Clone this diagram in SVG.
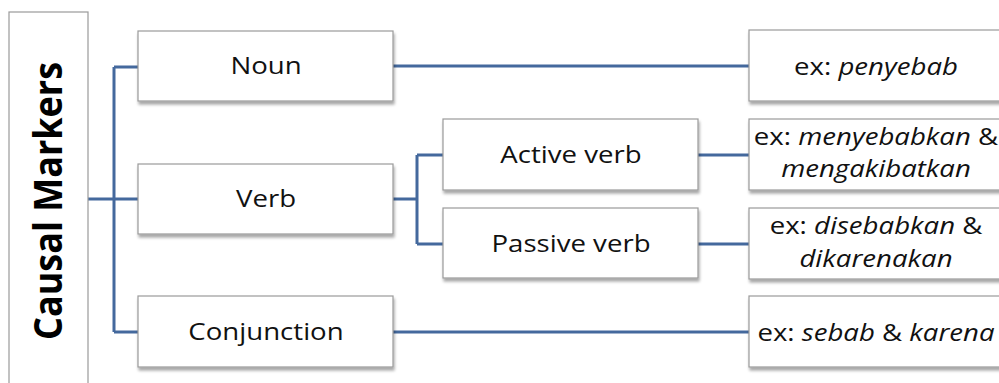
<svg xmlns="http://www.w3.org/2000/svg" width="999" height="383" viewBox="0 0 999 383">
  <style>
    .box { fill: #ffffff; stroke: #9a9a9a; stroke-width: 1.2; filter: url(#shadow); }
    .lbl { font-family: "Open Sans", "Liberation Sans", sans-serif; font-size: 24px; fill: #111111; text-anchor: middle; }
    .it { font-style: italic; }
    .link { fill: none; stroke: #44699d; stroke-width: 3; stroke-linejoin: miter; }
  </style>
  <defs>
    <filter id="shadow" x="-10%" y="-20%" width="120%" height="150%">
      <feGaussianBlur in="SourceAlpha" stdDeviation="1.8"/>
      <feOffset dx="1" dy="3" result="b"/>
      <feComponentTransfer><feFuncA type="linear" slope="0.35"/></feComponentTransfer>
      <feMerge><feMergeNode/><feMergeNode in="SourceGraphic"/></feMerge>
    </filter>
  </defs>

  <rect width="999" height="383" fill="#ffffff"/>

  <!-- connectors -->
  <g id="connectors">
    <path class="link" d="M88 199 H114 M114 67 V332 M114 67 H138 M114 199 H138 M114 332 H138"/>
    <path class="link" d="M393 199 H417 M417 155 V244 M417 155 H443 M417 244 H443"/>
    <path class="link" d="M393 66 H749"/>
    <path class="link" d="M698 155 H749"/>
    <path class="link" d="M698 244 H749"/>
    <path class="link" d="M393 332 H749"/>
  </g>

  <!-- root -->
  <g id="causal-markers">
    <rect x="9" y="12" width="79" height="380" fill="#ffffff" stroke="#9a9a9a" stroke-width="1.2"/>
    <text transform="translate(62,201) rotate(-90) scale(1,1.08)" font-family="'Open Sans', 'Liberation Sans', sans-serif" font-size="36" font-weight="bold" fill="#000000" text-anchor="middle">Causal Markers</text>
  </g>

  <!-- labels are set slightly wide: translate to the anchor, then stretch -->
  <g id="noun">
    <rect class="box" x="138" y="31" width="255" height="70"/>
    <text class="lbl" transform="translate(266,74) scale(1.15,1)">Noun</text>
  </g>
  <g id="verb">
    <rect class="box" x="138" y="164" width="255" height="70"/>
    <text class="lbl" transform="translate(266,207) scale(1.15,1)">Verb</text>
  </g>
  <g id="conjunction">
    <rect class="box" x="138" y="296" width="255" height="71"/>
    <text class="lbl" transform="translate(266,340) scale(1.15,1)">Conjunction</text>
  </g>

  <g id="active-verb">
    <rect class="box" x="443" y="119" width="255" height="71"/>
    <text class="lbl" transform="translate(571,163) scale(1.15,1)">Active verb</text>
  </g>
  <g id="passive-verb">
    <rect class="box" x="443" y="208" width="255" height="70"/>
    <text class="lbl" transform="translate(571,252) scale(1.15,1)">Passive verb</text>
  </g>

  <g id="ex-noun">
    <rect class="box" x="749" y="30" width="256" height="71"/>
    <text class="lbl" transform="translate(876,75) scale(1.15,1)">ex: <tspan class="it">penyebab</tspan></text>
  </g>
  <g id="ex-active">
    <rect class="box" x="749" y="119" width="256" height="71"/>
    <text class="lbl" transform="translate(876,145) scale(1.15,1)">ex: <tspan class="it">menyebabkan</tspan> &amp;</text>
    <text class="lbl it" transform="translate(876,177) scale(1.15,1)">mengakibatkan</text>
  </g>
  <g id="ex-passive">
    <rect class="box" x="749" y="208" width="256" height="71"/>
    <text class="lbl" transform="translate(876,234) scale(1.15,1)">ex: <tspan class="it">disebabkan</tspan> &amp;</text>
    <text class="lbl it" transform="translate(876,267) scale(1.15,1)">dikarenakan</text>
  </g>
  <g id="ex-conjunction">
    <rect class="box" x="749" y="296" width="256" height="71"/>
    <text class="lbl" transform="translate(876,341) scale(1.15,1)">ex: <tspan class="it">sebab</tspan> &amp; <tspan class="it">karena</tspan></text>
  </g>
</svg>
